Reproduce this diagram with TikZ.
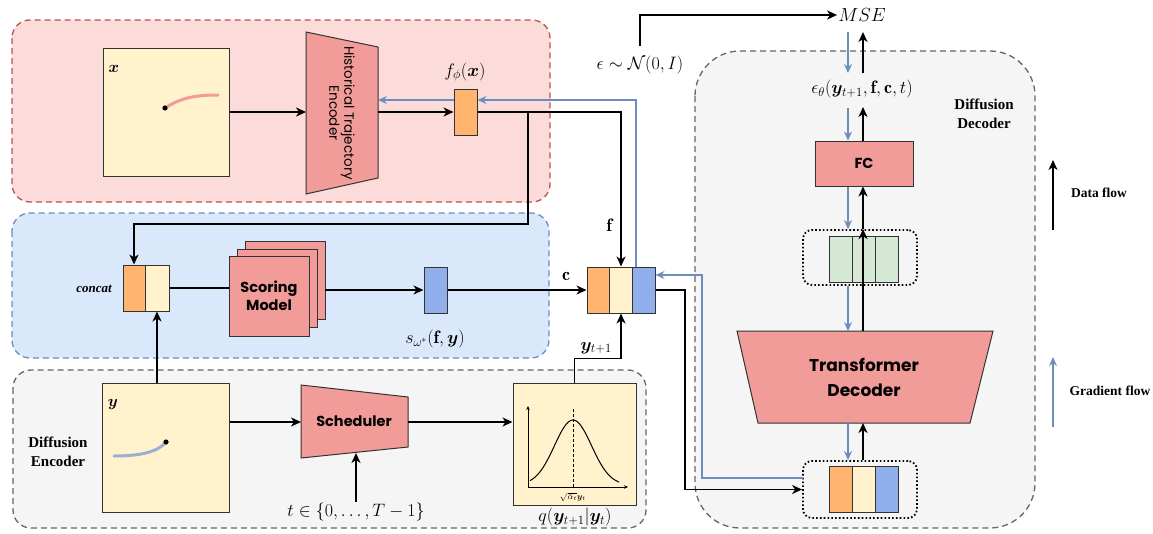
\RequirePackage{fix-cm}
\documentclass[tikz,border=0pt]{standalone}
\usepackage{amsmath,amssymb,bm}
\usepackage{fontspec}
\newfontfamily\tnr{Liberation Serif}
\newfontfamily\cfont{Poppins}
\usetikzlibrary{arrows.meta,calc}
\definecolor{redfill}{HTML}{FBDCDB}
\definecolor{redline}{HTML}{B85450}
\definecolor{bluefill}{HTML}{DAE8FC}
\definecolor{blueline}{HTML}{6C8EBF}
\definecolor{grayfill}{HTML}{F5F5F5}
\definecolor{grayline}{HTML}{666666}
\definecolor{cream}{HTML}{FFF2CC}
\definecolor{orangec}{HTML}{FFB570}
\definecolor{bluec}{HTML}{8FAEEA}
\definecolor{pinkc}{HTML}{F19C99}
\definecolor{greenc}{HTML}{D5E8D4}
\definecolor{gradc}{HTML}{6C8EBF}
\tikzset{
 region/.style={rounded corners=18pt, dash pattern=on 6pt off 4pt, line width=1.3pt},
 cell/.style={draw=black!80, line width=1pt, minimum width=23pt, minimum height=46pt, inner sep=0pt},
 dflow/.style={line width=1.6pt, -{Stealth[length=10pt,width=9pt,inset=3pt]}},
 gflow/.style={draw=gradc, line width=1.4pt, -{Stealth[length=9pt,width=8pt,inset=3pt]}},
 plainline/.style={line width=1.6pt},
 trap/.style={fill=pinkc, draw=black!80, line width=1pt},
 panel/.style={fill=cream, draw=black!80, line width=1pt, inner sep=0pt},
 dotbox/.style={draw, line width=1.8pt, dash pattern=on 1.6pt off 2.2pt, rounded corners=9pt, inner sep=0pt},
 ctext/.style={font=\cfont\bfseries\fontsize{14.5}{18}\selectfont, align=center},
 btext/.style={font=\tnr\bfseries\fontsize{15}{19}\selectfont, align=center},
 mlab/.style={font=\fontsize{18}{20}\selectfont, inner sep=1pt},
}
\begin{document}
\begin{tikzpicture}[x=1pt,y=-1pt]
\useasboundingbox (0,0) rectangle (1153,533);
% regions
\draw[region, fill=redfill, draw=redline] (12,20) rectangle (550,202);
\draw[region, fill=bluefill, draw=blueline] (12,213) rectangle (549,358);
\draw[region, fill=grayfill, draw=grayline] (13,370) rectangle (646,528);
\draw[region, rounded corners=45pt, fill=grayfill, draw=grayline] (695,51) rectangle (1035,528);

% ---- history branch
\node[panel, minimum width=126pt, minimum height=128pt] (xb) at (166,112) {};
\node[font=\fontsize{16}{18}\selectfont] (xl) at (114,69) {$\bm{x}$};
\draw[pinkc, line width=3pt, line cap=round] (165,108) .. controls (182,97) and (198,95) .. (218,95);
\fill (165,108) circle (2.6pt);

\path[trap] (306,32) -- (378,47) -- (378,178) -- (306,194) -- cycle;
\node[align=center, rotate=-90, font=\cfont\fontsize{13.5}{15}\selectfont] (enc) at (342,113) {Historical Trajectory\\Encoder};
\coordinate (encL) at (306,112);
\coordinate (encR) at (378,112);
\coordinate (encRg) at (378,100);

\node[cell, fill=orangec] (fphi) at (465.5,112) {};
\node[mlab] (fphil) at (465,72) {$f_\phi(\bm{x})$};

\draw[dflow] (xb.east) -- (encL);
\draw[dflow] (encR) -- (fphi.west);
\coordinate (gy) at (0,100);
\draw[gflow] (fphi.west |- gy) -- (encRg);

% ---- scoring branch
\node[cell, fill=orangec, minimum width=22pt] (cc1) at (134,288) {};
\node[cell, fill=cream, minimum width=24pt] (cc2) at (157,288) {};
\node[font=\tnr\bfseries\itshape\fontsize{13}{15}\selectfont] (ccl) at (94,289) {concat};

\node[fill=pinkc, draw=black!80, line width=1pt, minimum width=80pt, minimum height=78pt] (sm3) at (285,280) {};
\node[fill=pinkc, draw=black!80, line width=1pt, minimum width=80pt, minimum height=78pt] (sm2) at (277,288) {};
\node[fill=pinkc, draw=black!80, line width=1pt, minimum width=80pt, minimum height=80pt, ctext] (sm) at (269,296) {Scoring\\Model};

\node[cell, fill=bluec] (sb) at (435.5,290) {};
\node[mlab] (sbl) at (435,339) {$s_{\omega^*}(\mathbf{f},\bm{y})$};

\coordinate (br1) at (528,112);
\coordinate (br2) at (528,224);
\draw[plainline] (fphi.east) -- (br1);
\draw[dflow] (br1) -- (br2) -| (cc1.north);
\draw[plainline] (cc2.east) -- (sm.west |- cc2.east);
\coordinate (smo) at (325,290);
\draw[dflow] (smo) -- (sb.west);

% ---- big concat
\node[cell, fill=orangec] (bc1) at (598.5,290) {};
\node[cell, fill=cream] (bc2) at (621,290) {};
\node[cell, fill=bluec] (bc3) at (643.5,290) {};
\draw[dflow] (sb.east) -- (bc1.west);
\node[mlab] (cl) at (566,276) {$\mathbf{c}$};
\draw[dflow] (fphi.east) -| (bc2.north);
\node[mlab] (fl) at (609,225) {$\mathbf{f}$};
\coordinate (gb1) at (636,267);
\coordinate (gb2) at (636,100);
\draw[gflow] (gb1) -- (gb2) -- (fphi.east |- gy);

% ---- diffusion encoder
\node[panel, minimum width=127pt, minimum height=129pt] (yb) at (165.5,447.5) {};
\node[font=\fontsize{16}{18}\selectfont] (yl) at (113,404) {$\bm{y}$};
\draw[blueline!70, line width=3pt, line cap=round] (114,456) .. controls (140,456) and (158,452) .. (166,442);
\fill (166,442) circle (2.6pt);
\node[btext] (dencl) at (58,452) {Diffusion\\Encoder};
\draw[dflow] (yb.north -| cc2.south) -- (cc2.south);

\path[trap] (301,385) -- (408,397) -- (408,447) -- (301,458) -- cycle;
\node[ctext] (sch) at (354,421) {Scheduler};
\coordinate (schL) at (301,422);
\coordinate (schR) at (408,422);
\coordinate (schB) at (356,453);
\draw[dflow] (yb.east |- schL) -- (schL);
\node[mlab] (tl) at (356,512) {$t\in\{0,\dots,T-1\}$};
\draw[dflow] (tl.north) -- (schB);

\node[panel, minimum width=123pt, minimum height=122pt] (qb) at (574.5,444) {};
\draw[dflow] (schR) -- (qb.west |- schR);
\draw[line width=0.8pt, -{Stealth[length=4pt,width=3.5pt]}] (528,487) -- (528,406);
\draw[line width=0.8pt, -{Stealth[length=4pt,width=3.5pt]}] (528,487) -- (628,487);
\draw[line width=0.8pt, dash pattern=on 3pt off 2pt] (573,487) -- (573,408);
\draw[line width=1pt] plot[domain=530:619, samples=70, smooth] (\x, {485 - 65*exp(-((\x-573)*(\x-573))/(2*18.5*18.5))});
\node[font=\fontsize{8.5}{9}\selectfont, inner sep=0pt] (al) at (573,497) {$\sqrt{\bar\alpha_t}\bm{y}_t$};
\node[mlab] (ql) at (575,517) {$q(\bm{y}_{t+1}|\bm{y}_t)$};

\draw[dflow] (qb.north) -- ++(0,-24) -| (bc2.south);
\node[mlab] (ytl) at (596,348) {$\bm{y}_{t+1}$};

% ---- diffusion decoder
\node[font=\fontsize{19}{21}\selectfont, inner sep=1pt] (mse) at (862,15) {$MSE$};
\node[mlab] (noise) at (640,65) {$\epsilon\sim\mathcal{N}(0,I)$};
\coordinate (nz) at (640,46);
\draw[dflow] (nz) |- (mse.west);
\node[mlab] (eps) at (862,89) {$\epsilon_\theta(\bm{y}_{t+1},\mathbf{f},\mathbf{c},t)$};

\node[fill=pinkc, draw=black!80, line width=1pt, minimum width=98pt, minimum height=45pt, ctext] (fc) at (864,163.5) {FC};

\node[dotbox, minimum width=114pt, minimum height=55pt] (gbx) at (860,257.5) {};
\node[cell, fill=greenc] (g1) at (840.5,259) {};
\node[cell, fill=greenc] (g2) at (863.5,259) {};
\node[cell, fill=greenc] (g3) at (886.5,259) {};

\path[trap] (737,331) -- (993,331) -- (970,423) -- (758,423) -- cycle;
\node[ctext, font=\cfont\bfseries\fontsize{17}{25}\selectfont] (td) at (864,377) {Transformer\\Decoder};
\coordinate (tdT) at (860,331);
\coordinate (tdB) at (860,423);

\node[dotbox, minimum width=114pt, minimum height=57pt] (bb) at (860,489.5) {};
\node[cell, fill=orangec] (b1) at (840.5,489.5) {};
\node[cell, fill=cream] (b2) at (863.5,489.5) {};
\node[cell, fill=bluec] (b3) at (886.5,489.5) {};

\coordinate (gx) at (848,0);
\coordinate (dx) at (863,0);
\coordinate (topg) at (848,32);
\coordinate (topd) at (863,32);
% gradient (down)
\draw[gflow] (topg) -- (848,73);
\draw[gflow] (848,108) -- (fc.north -| gx);
\draw[gflow] (fc.south -| gx) -- (gbx.north -| gx);
\draw[gflow] (gbx.south -| gx) -- (tdT -| gx);
\draw[gflow] (tdB -| gx) -- (bb.north -| gx);
% data (up)
\draw[dflow] (863,73) -- (topd);
\draw[dflow] (fc.north -| dx) -- (863,107);
\draw[dflow] (gbx.north -| dx) -- (fc.south -| dx);
\draw[dflow] (tdT -| dx) -- (gbx.north -| dx);
\draw[dflow] (bb.north -| dx) -- (tdB -| dx);

% connections concat <-> bottom box
\coordinate (c1) at (685,290);
\draw[dflow] (bc3.east) -- (c1) |- (bb.west);
\coordinate (g1a) at (803,478);
\coordinate (g1b) at (702,478);
\coordinate (g1c) at (702,275);
\draw[gflow] (g1a) -- (g1b) -- (g1c) -- (bc3.east |- g1c);

\node[btext] (ddl) at (984,114) {Diffusion\\Decoder};

% legend
\coordinate (lg1) at (1053,230);
\coordinate (lg2) at (1053,160);
\draw[dflow] (lg1) -- (lg2);
\node[btext, font=\tnr\bfseries\fontsize{13.5}{16}\selectfont] (dfl) at (1099,193) {Data flow};
\coordinate (lg3) at (1053,427);
\coordinate (lg4) at (1053,357);
\draw[gflow] (lg3) -- (lg4);
\node[btext, font=\tnr\bfseries\fontsize{13.5}{16}\selectfont] (gfl) at (1110,391) {Gradient flow};
\end{tikzpicture}
\end{document}
